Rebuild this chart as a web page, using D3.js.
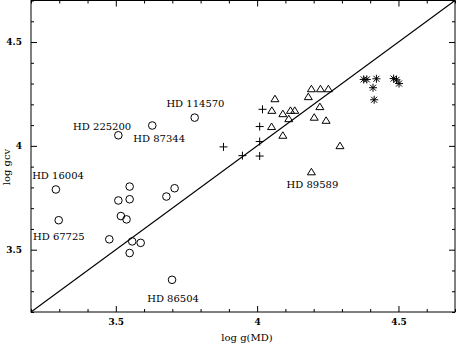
<!DOCTYPE html>
<html>
<head>
<meta charset="utf-8">
<script src="https://cdn.jsdelivr.net/npm/d3@7"></script>
<style>
  body { margin: 0; background: #fff; }
  text { font-family: "DejaVu Serif", serif; fill: #000; }
</style>
</head>
<body>
<div id="chart-area"></div>
<script>
// log g (MD) vs log g (cv), four groups of stars
var circleX = [3.288, 3.298, 3.549, 3.509, 3.549, 3.518, 3.538, 3.477, 3.558, 3.588, 3.549, 3.679, 3.708, 3.699, 3.509, 3.629, 3.779];
var circleY = [3.790, 3.642, 3.804, 3.737, 3.743, 3.662, 3.646, 3.550, 3.540, 3.533, 3.484, 3.756, 3.796, 3.355, 4.051, 4.098, 4.136];

var plusX = [3.881, 3.948, 4.019, 4.009, 4.009, 4.009];
var plusY = [3.995, 3.953, 4.176, 4.093, 4.021, 3.951];

var triX = [4.063, 4.052, 4.091, 4.118, 4.133, 4.112, 4.051, 4.091, 4.192, 4.224, 4.252, 4.181, 4.222, 4.202, 4.244, 4.293, 4.192];
var triY = [4.227, 4.171, 4.155, 4.171, 4.171, 4.131, 4.093, 4.051, 4.275, 4.275, 4.275, 4.237, 4.189, 4.138, 4.123, 4.001, 3.875];

var starX = [4.377, 4.388, 4.422, 4.410, 4.414, 4.483, 4.493, 4.502];
var starY = [4.320, 4.320, 4.323, 4.280, 4.222, 4.324, 4.318, 4.300];

var majorTicks = [3.5, 4, 4.5];
var tickLabels = ["3.5", "4", "4.5"];

var starNames = ["HD 114570", "HD 225200", "HD 87344", "HD 16004", "HD 67725", "HD 86504", "HD 89589"];
var nameX = [3.679, 3.349, 3.562, 3.204, 3.207, 3.611, 4.104];
var nameY = [4.186, 4.075, 4.017, 3.839, 3.546, 3.248, 3.796];

var margin = { left: 31, right: 1, top: 0.5, bottom: 31 };
var width = 456 - margin.left - margin.right,
    height = 343 - margin.top - margin.bottom;

var svg = d3.select("#chart-area")
    .append("svg")
        .attr("width", 456)
        .attr("height", 343);

var g = svg.append("g")
    .attr("transform", "translate(" + margin.left + ", " + margin.top + ")");

var x = d3.scaleLinear().domain([3.2, 4.7]).range([0, width]);
var y = d3.scaleLinear().domain([3.2, 4.7]).range([height, 0]);

var minor = d3.range(32, 48).map(function(d){ return d / 10; })
    .filter(function(d){ return majorTicks.indexOf(d) < 0; });

function noDomain(sel){ sel.select(".domain").remove(); }

// minor ticks, all four sides, pointing in
g.append("g").attr("transform", "translate(0," + height + ")")
    .call(d3.axisBottom(x).tickValues(minor).tickSize(-3).tickFormat("")).call(noDomain);
g.append("g")
    .call(d3.axisTop(x).tickValues(minor).tickSize(-3).tickFormat("")).call(noDomain);
g.append("g")
    .call(d3.axisLeft(y).tickValues(minor).tickSize(-3).tickFormat("")).call(noDomain);
g.append("g").attr("transform", "translate(" + width + ",0)")
    .call(d3.axisRight(y).tickValues(minor).tickSize(-3).tickFormat("")).call(noDomain);

// major ticks
var xAxisCall = d3.axisBottom(x).tickValues(majorTicks).tickSize(-6).tickPadding(7)
    .tickFormat(function(d, i){ return tickLabels[i]; });
g.append("g").attr("class", "x-axis").attr("transform", "translate(0," + height + ")")
    .call(xAxisCall).call(noDomain);
var yAxisCall = d3.axisLeft(y).tickValues(majorTicks).tickSize(-6).tickPadding(9)
    .tickFormat(function(d, i){ return tickLabels[i]; });
g.append("g").attr("class", "y-axis")
    .call(yAxisCall).call(noDomain);
g.append("g")
    .call(d3.axisTop(x).tickValues(majorTicks).tickSize(-6).tickFormat("")).call(noDomain);
g.append("g").attr("transform", "translate(" + width + ",0)")
    .call(d3.axisRight(y).tickValues(majorTicks).tickSize(-6).tickFormat("")).call(noDomain);

g.selectAll(".tick line").attr("stroke", "#000");
g.selectAll(".tick text")
    .attr("font-family", "Liberation Serif, serif")
    .attr("font-weight", "bold")
    .attr("font-size", "9px")
    .attr("fill", "#000");

// frame
g.append("rect")
    .attr("width", width).attr("height", height)
    .attr("fill", "none").attr("stroke", "#000");

// one-to-one line
g.append("line")
    .attr("x1", x(3.2)).attr("y1", y(3.2))
    .attr("x2", x(4.7)).attr("y2", y(4.7))
    .attr("stroke", "#000").attr("stroke-width", 1.1);

function pts(xs, ys){ return xs.map(function(d, i){ return [d, ys[i]]; }); }

g.selectAll(".circ").data(pts(circleX, circleY)).enter()
    .append("circle")
        .attr("class", "circ")
        .attr("cx", function(d){ return x(d[0]); })
        .attr("cy", function(d){ return y(d[1]); })
        .attr("r", 3.8)
        .attr("fill", "none").attr("stroke", "#000");

var plusPath = "M-4,0H4M0,-4V4";
g.selectAll(".plus").data(pts(plusX, plusY)).enter()
    .append("path")
        .attr("class", "plus")
        .attr("d", plusPath)
        .attr("transform", function(d){ return "translate(" + x(d[0]) + "," + y(d[1]) + ")"; })
        .attr("stroke", "#000").attr("fill", "none");

var triPath = "M0,-3.5L4,3L-4,3Z";
g.selectAll(".tri").data(pts(triX, triY)).enter()
    .append("path")
        .attr("class", "tri")
        .attr("d", triPath)
        .attr("transform", function(d){ return "translate(" + x(d[0]) + "," + y(d[1]) + ")"; })
        .attr("stroke", "#000").attr("fill", "none");

var starPath = "M-4,0H4M0,-4V4M-3,-3L3,3M-3,3L3,-3";
g.selectAll(".star").data(pts(starX, starY)).enter()
    .append("path")
        .attr("class", "star")
        .attr("d", starPath)
        .attr("transform", function(d){ return "translate(" + x(d[0]) + "," + y(d[1]) + ")"; })
        .attr("stroke", "#000").attr("fill", "none");

// star names
g.selectAll(".name").data(starNames).enter()
    .append("text")
        .attr("class", "name")
        .attr("x", function(d, i){ return x(nameX[i]); })
        .attr("y", function(d, i){ return y(nameY[i]); })
        .attr("font-size", "10px")
        .text(function(d){ return d; });

// axis labels
svg.append("text")
    .attr("x", 247).attr("y", 341)
    .attr("font-size", "10px")
    .attr("text-anchor", "middle")
    .text("log g(MD)");

svg.append("text")
    .attr("transform", "translate(10,167) rotate(-90)")
    .attr("font-size", "10px")
    .attr("text-anchor", "middle")
    .text("log gcv");
</script>
</body>
</html>
